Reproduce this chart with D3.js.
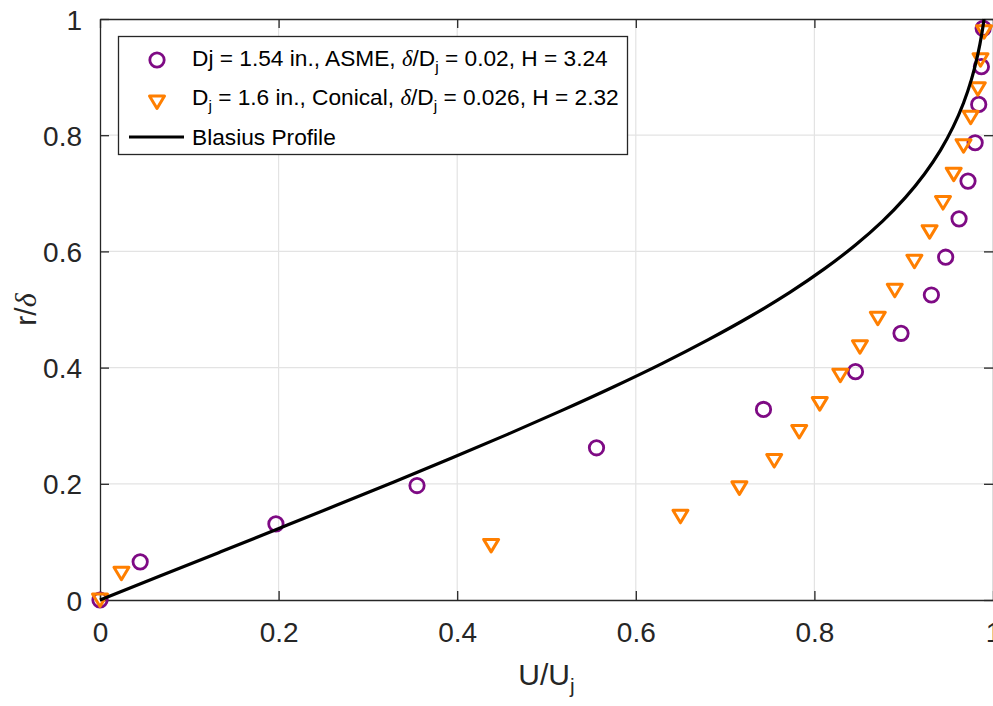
<!DOCTYPE html>
<html>
<head>
<meta charset="utf-8">
<script src="https://cdn.jsdelivr.net/npm/d3@7/dist/d3.min.js"></script>
<style>
  html, body { margin: 0; padding: 0; background: #fff; }
  svg { display: block; }
  text { font-family: "Liberation Sans", Arial, Helvetica, sans-serif; }
</style>
</head>
<body>
<svg id="chart" width="993" height="706"></svg>
<script>
// ---- data ----
const asmeU = [0, 0.045, 0.197, 0.355, 0.556, 0.743, 0.846, 0.897, 0.931, 0.947, 0.962, 0.972, 0.980, 0.984, 0.987, 0.989];
const asmeR = [0, 0.0657, 0.131, 0.197, 0.262, 0.328, 0.393, 0.459, 0.525, 0.590, 0.656, 0.721, 0.787, 0.853, 0.918, 0.984];

const conicalU = [0, 0.024, 0.438, 0.650, 0.716, 0.755, 0.783, 0.806, 0.829, 0.851, 0.871, 0.890, 0.912, 0.929, 0.944, 0.956, 0.967, 0.975, 0.983, 0.986, 0.990];
const conicalR = [0, 0.046, 0.094, 0.144, 0.193, 0.240, 0.290, 0.338, 0.387, 0.436, 0.485, 0.533, 0.583, 0.634, 0.684, 0.733, 0.782, 0.831, 0.880, 0.930, 0.978];

const blasiusU = [0, 0.0664, 0.1328, 0.1989, 0.2647, 0.3298, 0.3938, 0.4563, 0.5168, 0.5748, 0.6298, 0.6813, 0.7290, 0.7725, 0.8115, 0.8460, 0.8761, 0.9018, 0.9233, 0.9411, 0.9555, 0.9670, 0.9759, 0.9827, 0.9878, 0.9900];
const blasiusR = [0, 0.0407, 0.0815, 0.1222, 0.1629, 0.2037, 0.2444, 0.2851, 0.3259, 0.3666, 0.4073, 0.4481, 0.4888, 0.5295, 0.5703, 0.6110, 0.6517, 0.6925, 0.7332, 0.7739, 0.8147, 0.8554, 0.8961, 0.9369, 0.9776, 1.0];

const xTicks = [0, 0.2, 0.4, 0.6, 0.8, 1];
const yTicks = [0, 0.2, 0.4, 0.6, 0.8, 1];
const xTickLabels = ["0", "0.2", "0.4", "0.6", "0.8", "1"];
const yTickLabels = ["0", "0.2", "0.4", "0.6", "0.8", "1"];

const purple = "#7E0A84";
const orange = "#FF7F00";
const axisColor = "#262626";

// ---- layout ----
const svg = d3.select("#chart");
const pL = 100, pR = 993, pT = 19, pB = 600;
const x = d3.scaleLinear().domain([0, 1]).range([pL, pR]);
const y = d3.scaleLinear().domain([0, 1]).range([pB, pT]);

// grid
const grid = svg.append("g");
grid.selectAll("line.gx").data(xTicks.slice(1, -1)).join("line")
  .attr("x1", d => x(d)).attr("x2", d => x(d)).attr("y1", pT).attr("y2", pB)
  .attr("stroke", "#e3e3e3").attr("stroke-width", 1.2);
grid.selectAll("line.gy").data(yTicks.slice(1, -1)).join("line")
  .attr("y1", d => y(d)).attr("y2", d => y(d)).attr("x1", pL).attr("x2", pR)
  .attr("stroke", "#e3e3e3").attr("stroke-width", 1.2);

// axes (ticks inside)
const tickLen = 9;
const xAxisB = d3.axisBottom(x).tickValues(xTicks).tickSizeInner(-tickLen).tickSizeOuter(0)
  .tickFormat((d, i) => xTickLabels[i]).tickPadding(22);
const yAxisL = d3.axisLeft(y).tickValues(yTicks).tickSizeInner(-tickLen).tickSizeOuter(0)
  .tickFormat((d, i) => yTickLabels[i]).tickPadding(18);
const xAxisT = d3.axisTop(x).tickValues(xTicks).tickSizeInner(-tickLen).tickSizeOuter(0).tickFormat("");
const yAxisR = d3.axisRight(y).tickValues(yTicks).tickSizeInner(-tickLen).tickSizeOuter(0).tickFormat("");

function styleAxis(g) {
  g.select(".domain").attr("stroke", axisColor).attr("stroke-width", 1.3);
  g.selectAll(".tick line").attr("stroke", axisColor).attr("stroke-width", 1.3);
  g.selectAll(".tick text").attr("fill", axisColor).style("font-size", "28px")
    .style("font-family", "'Liberation Sans', Arial, sans-serif");
}
svg.append("g").attr("transform", `translate(0,${pB})`).call(xAxisB).call(styleAxis)
  .selectAll(".tick text").attr("dy", "0.71em");
svg.append("g").attr("transform", `translate(${pL},0)`).call(yAxisL).call(styleAxis)
  .selectAll(".tick text").attr("dy", "0.36em");
svg.append("g").attr("transform", `translate(0,${pT})`).call(xAxisT).call(styleAxis);
svg.append("g").attr("transform", `translate(${pR},0)`).call(yAxisR).call(styleAxis);

// ---- series ----
const asme = asmeU.map((u, i) => ({u, r: asmeR[i]}));
const conical = conicalU.map((u, i) => ({u, r: conicalR[i]}));
const blasius = blasiusU.map((u, i) => ({u, r: blasiusR[i]}));

const triPath = "M-7.5,-6L7.5,-6L0,6.5Z";

svg.append("g").selectAll("circle").data(asme).join("circle")
  .attr("cx", d => x(d.u)).attr("cy", d => y(d.r)).attr("r", 7.2)
  .attr("fill", "none").attr("stroke", purple).attr("stroke-width", 2.8);

svg.append("g").selectAll("path").data(conical).join("path")
  .attr("d", triPath)
  .attr("transform", d => `translate(${x(d.u)},${y(d.r)})`)
  .attr("fill", "none").attr("stroke", orange).attr("stroke-width", 3).attr("stroke-linejoin", "round");

const line = d3.line().x(d => x(d.u)).y(d => y(d.r)).curve(d3.curveMonotoneY);
svg.append("path").datum(blasius).attr("d", line)
  .attr("fill", "none").attr("stroke", "#000").attr("stroke-width", 3.2);

// ---- axis labels ----
const xl = svg.append("text").attr("x", (pL + pR) / 2).attr("y", 685)
  .attr("text-anchor", "middle").attr("fill", axisColor).style("font-size", "30px");
xl.append("tspan").text("U/U");
xl.append("tspan").attr("dy", 8).style("font-size", "21px").text("j");

const yl = svg.append("text").attr("transform", `translate(36,${(pT + pB) / 2}) rotate(-90)`)
  .attr("text-anchor", "middle").attr("fill", axisColor).style("font-size", "30px");
yl.append("tspan").text("r/");
yl.append("tspan").style("font-family", "'Liberation Serif', 'DejaVu Serif', serif").style("font-style", "italic").text("δ");

// ---- legend ----
const lg = svg.append("g");
lg.append("rect").attr("x", 118.5).attr("y", 36.5).attr("width", 509).attr("height", 118)
  .attr("fill", "#fff").attr("stroke", axisColor).attr("stroke-width", 1.3);

const legFont = 22.7, subFont = 15.5;
lg.append("circle").attr("cx", 157).attr("cy", 60).attr("r", 7.2)
  .attr("fill", "none").attr("stroke", purple).attr("stroke-width", 2.8);
lg.append("path").attr("d", triPath).attr("transform", "translate(157,102)")
  .attr("fill", "none").attr("stroke", orange).attr("stroke-width", 3).attr("stroke-linejoin", "round");
lg.append("line").attr("x1", 129).attr("x2", 184).attr("y1", 137).attr("y2", 137)
  .attr("stroke", "#000").attr("stroke-width", 3.2);

function addRich(yPos, parts) {
  const t = lg.append("text").attr("x", 192).attr("y", yPos).attr("fill", "#000").style("font-size", legFont + "px");
  let shift = 0;
  parts.forEach(p => {
    const s = t.append("tspan").text(p.t);
    const want = p.sub ? 6 : 0;
    if (want !== shift) { s.attr("dy", want - shift); shift = want; }
    if (p.sub) s.style("font-size", subFont + "px");
    if (p.it) s.style("font-family", "'Liberation Serif', 'DejaVu Serif', serif").style("font-style", "italic");
  });
}
addRich(66, [{t: "Dj = 1.54 in., ASME, "}, {t: "δ", it: true}, {t: "/D"}, {t: "j", sub: true}, {t: " = 0.02, H = 3.24"}]);
addRich(105, [{t: "D"}, {t: "j", sub: true}, {t: " = 1.6 in., Conical, "}, {t: "δ", it: true}, {t: "/D"}, {t: "j", sub: true}, {t: " = 0.026, H = 2.32"}]);
addRich(145, [{t: "Blasius Profile"}]);
</script>
</body>
</html>
